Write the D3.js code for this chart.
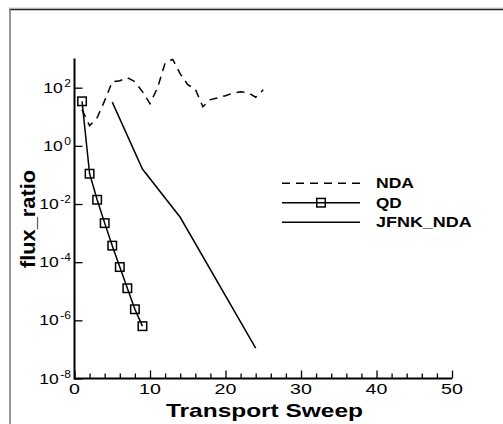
<!DOCTYPE html>
<html>
<head>
<meta charset="utf-8">
<script src="https://cdn.jsdelivr.net/npm/d3@7"></script>
<style>
  html, body { margin: 0; padding: 0; background: #fff; }
  svg { display: block; }
  text { font-family: "Liberation Sans", Arial, Helvetica, sans-serif; fill: #000; }
</style>
</head>
<body>
<svg id="chart" width="503" height="424"></svg>
<script>
// ---- data ----
const ndaSweeps = [1,2,3,4,5,6,7,8,9,10,11,12,13,14,15,16,17,18,19,20,21,22,23,24,25];
const ndaValues = [17.5,4.9,9.3,36,160,174,220,160,73,28,100,700,950,300,127,89,22,39,45,53,65,73,67,47,85];
const qdSweeps = [1,2,3,4,5,6,7,8,9];
const qdValues = [34,0.11,0.014,2.2e-3,3.7e-4,6.8e-5,1.27e-5,2.4e-6,6.3e-7];
const jfnkSweeps = [5,9,14,24];
const jfnkValues = [32,0.16,3.5e-3,1.1e-7];
const xTicks = [0,10,20,30,40,50];
const yTickExponents = [-8,-6,-4,-2,0,2];
const seriesNames = ["NDA","QD","JFNK_NDA"];
const xTitle = "Transport Sweep";
const yTitle = "flux_ratio";

// ---- layout ----
const svg = d3.select("#chart");
const pLeft = 74.5, pRight = 452, pTop = 58.6, pBottom = 378.5;
const x = d3.scaleLinear().domain([0,50]).range([pLeft,pRight]);
const y = d3.scaleLog().domain([1e-8,1e3]).range([pBottom,pTop]);

// frame
svg.append("line").attr("x1",9).attr("x2",503).attr("y1",8).attr("y2",8).attr("stroke","#ccc").attr("stroke-width",1);
svg.append("line").attr("x1",9).attr("x2",503).attr("y1",9.5).attr("y2",9.5).attr("stroke","#222").attr("stroke-width",1.5);
svg.append("line").attr("x1",10).attr("x2",10).attr("y1",9).attr("y2",424).attr("stroke","#777").attr("stroke-width",1.5);

// clip
svg.append("clipPath").attr("id","clip").append("rect")
  .attr("x",pLeft).attr("y",pTop).attr("width",pRight-pLeft).attr("height",pBottom-pTop);

// x axis
const xAxis = d3.axisBottom(x).tickValues(d3.range(0,51,2)).tickSize(-5).tickFormat("");
const gx = svg.append("g").attr("transform",`translate(0,${pBottom})`).call(xAxis);
gx.selectAll(".tick line").attr("stroke","#000").attr("stroke-width",1.3)
  .attr("y2", d => (d % 10 === 0) ? -8 : -5);
gx.select(".domain").attr("stroke","#000").attr("stroke-width",2).attr("d",`M${pLeft},0H${pRight}`);
svg.selectAll(".xlab").data(xTicks).enter().append("text")
  .attr("class","xlab")
  .attr("x", d => x(d)).attr("y", pBottom + 15.5)
  .attr("text-anchor","middle").attr("font-size",14)
  .text(d => d)
  .attr("textLength", function(){ return this.getComputedTextLength()*1.4; })
  .attr("lengthAdjust","spacingAndGlyphs");

// y axis
const yAxis = d3.axisLeft(y).tickValues(yTickExponents.map(e => Math.pow(10,e))).tickSize(-8).tickFormat("");
const gy = svg.append("g").attr("transform",`translate(${pLeft},0)`).call(yAxis);
gy.selectAll(".tick line").attr("stroke","#000").attr("stroke-width",1.3);
gy.select(".domain").attr("stroke","#000").attr("stroke-width",2).attr("d",`M0,${pBottom+1}V${pTop}`);
const yl = svg.selectAll(".ylab").data(yTickExponents).enter().append("g").attr("class","ylab");
yl.each(function(e){
  const g = d3.select(this);
  const yy = y(Math.pow(10,e));
  const exp = g.append("text").attr("font-size",10).attr("text-anchor","end")
    .attr("x",71).attr("y",yy-1).text(e);
  const ew = exp.node().getComputedTextLength()*1.2;
  exp.attr("textLength",ew).attr("lengthAdjust","spacingAndGlyphs");
  const base = g.append("text").attr("font-size",14).attr("text-anchor","end")
    .attr("x",71-ew-1.5).attr("y",yy+5).text("10");
  base.attr("textLength",base.node().getComputedTextLength()*1.25).attr("lengthAdjust","spacingAndGlyphs");
});

// titles
svg.append("text").attr("x",264.5).attr("y",416.5).attr("text-anchor","middle")
  .attr("font-size",19).attr("font-weight","bold").text(xTitle)
  .attr("textLength",197).attr("lengthAdjust","spacingAndGlyphs");
svg.append("text").attr("transform","translate(35,219) rotate(-90)").attr("text-anchor","middle")
  .attr("font-size",21).attr("font-weight","bold").text(yTitle)
  .attr("textLength",98).attr("lengthAdjust","spacingAndGlyphs");

// series
const line = d3.line().x(d => x(d[0])).y(d => y(d[1]));
const plot = svg.append("g").attr("clip-path","url(#clip)");
plot.append("path").datum(d3.zip(ndaSweeps, ndaValues)).attr("d",line)
  .attr("fill","none").attr("stroke","#000").attr("stroke-width",1.5).attr("stroke-dasharray","8,6");
plot.append("path").datum(d3.zip(qdSweeps, qdValues)).attr("d",line)
  .attr("fill","none").attr("stroke","#000").attr("stroke-width",1.5);
plot.append("path").datum(d3.zip(jfnkSweeps, jfnkValues)).attr("d",line)
  .attr("fill","none").attr("stroke","#000").attr("stroke-width",1.5);
const sq = 8.5;
svg.selectAll(".qdpt").data(d3.zip(qdSweeps, qdValues)).enter().append("rect")
  .attr("class","qdpt")
  .attr("x", d => x(d[0]) - sq/2).attr("y", d => y(d[1]) - sq/2)
  .attr("width",sq).attr("height",sq)
  .attr("fill","none").attr("stroke","#000").attr("stroke-width",1.5);

// legend
const legX1 = 282, legX2 = 360, legTextX = 376;
const legRows = [183.3, 202.7, 222.3];
const legWidths = [38, 25.7, 95.7];
const legStyles = ["8,6", null, null];
seriesNames.forEach((name,i) => {
  const ly = legRows[i];
  const ln = svg.append("line").attr("x1",legX1).attr("x2",legX2).attr("y1",ly).attr("y2",ly)
    .attr("stroke","#000").attr("stroke-width",1.5);
  if (legStyles[i]) ln.attr("stroke-dasharray",legStyles[i]);
  if (name === "QD") {
    svg.append("rect").attr("x",(legX1+legX2)/2 - sq/2).attr("y",ly - sq/2)
      .attr("width",sq).attr("height",sq).attr("fill","none").attr("stroke","#000").attr("stroke-width",1.5);
  }
  svg.append("text").attr("x",legTextX).attr("y",ly+5).attr("font-size",15).attr("font-weight","bold")
    .text(name).attr("textLength",legWidths[i]).attr("lengthAdjust","spacingAndGlyphs");
});
</script>
</body>
</html>
